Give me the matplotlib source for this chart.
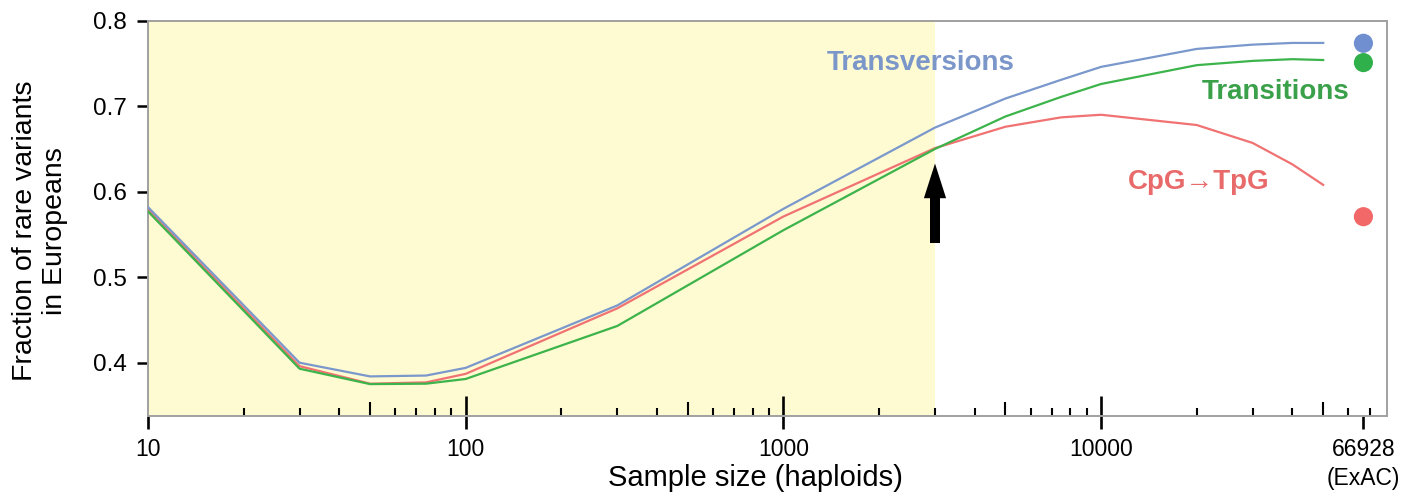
import numpy as np
import matplotlib
matplotlib.use("Agg")
import matplotlib.pyplot as plt

plt.rcParams['font.family'] = ['Liberation Sans', 'DejaVu Sans']

# sample sizes (haploids) and fraction of rare variants
sizes = [10, 30, 50, 75, 100, 300, 1000, 3000, 5000, 7500, 10000, 20000, 30000, 40000, 50000]
transversions = [0.582, 0.400, 0.384, 0.385, 0.394, 0.467, 0.580, 0.675, 0.709, 0.731, 0.746, 0.767, 0.772, 0.774, 0.774]
transitions = [0.577, 0.393, 0.375, 0.3755, 0.381, 0.443, 0.555, 0.650, 0.688, 0.711, 0.726, 0.748, 0.753, 0.755, 0.754]
cpg = [0.579, 0.396, 0.3755, 0.377, 0.387, 0.4636, 0.571, 0.651, 0.676, 0.687, 0.690, 0.678, 0.657, 0.632, 0.608]

exac_n = 66928
exac_vals = [0.7736, 0.751, 0.5708]   # transversions, transitions, CpG

shade_end = 3000
major_ticks = [10, 100, 1000, 10000, exac_n]
major_labels = ['10', '100', '1000', '10000', '66928\n(ExAC)']
yticks = [0.4, 0.5, 0.6, 0.7, 0.8]

c_blue = '#7a98cc'
c_green = '#3cb44b'
c_red = '#f07272'


def px_to_x(px):
    # horizontal pixel in the 1412 px figure -> sample size (log axis)
    return 10 ** (1 + (px - 148) / 317.7)


def px_to_y(py):
    return 0.8 - (py - 20.7) / 855


fig = plt.figure(figsize=(14.12, 4.94), dpi=100)
ax = fig.add_axes([148/1412, 1 - 416/494, 1239/1412, 395.3/494])

ax.axvspan(10, shade_end, color='#fefad2', zorder=0, lw=0)

ax.plot(sizes, cpg, color=c_red, lw=1.6, zorder=3)
ax.plot(sizes, transitions, color=c_green, lw=1.6, zorder=4)
ax.plot(sizes, transversions, color=c_blue, lw=1.6, zorder=5)

ax.scatter([exac_n] * 3, exac_vals, s=190, c=['#6f8fd0', '#30b04a', '#f26767'],
           zorder=6, clip_on=False, linewidths=0)

ax.set_xscale('log')
ax.set_xlim(10, 79400)
ax.set_ylim(0.3377, 0.8)

ax.text(px_to_x(921), px_to_y(63), 'Transversions', color='#7b96c8', fontsize=20,
        fontweight='bold', ha='center', va='center')
ax.text(px_to_x(1276), px_to_y(92), 'Transitions', color='#3aa04a', fontsize=20,
        fontweight='bold', ha='center', va='center')
ax.text(px_to_x(1199), px_to_y(182), 'CpG\u2192TpG', color='#e86a6a', fontsize=20,
        fontweight='bold', ha='center', va='center')

# black arrow at 3000
ax.annotate('', xy=(shade_end, 0.633), xytext=(shade_end, 0.540),
            arrowprops=dict(arrowstyle='simple,head_length=2.5,head_width=1.6,tail_width=0.72',
                            mutation_scale=10, fc='black', ec='none', shrinkA=0, shrinkB=0),
            zorder=7)

# x ticks: outward majors, inward minors
ax.set_xticks(major_ticks)
ax.set_xticklabels(major_labels)
minor = []
for dec in [10, 100, 1000, 10000]:
    minor += [dec * k for k in range(2, 10)]
minor = [m for m in minor if m < 79400]
minor += [100, 1000, 10000]
ax.xaxis.remove_overlapping_locs = False
ax.set_xticks(minor, minor=True)
ax.tick_params(axis='x', which='major', direction='out', length=9.5, width=1.9,
               color='black', labelsize=16.5, pad=6.5)
ax.tick_params(axis='x', which='minor', direction='in', length=5.5, width=1.5,
               color='black', labelbottom=False)
for lab in ax.get_xticklabels():
    lab.set_linespacing(1.3)

ax.set_yticks(yticks)
ax.set_yticklabels([f'{v:.1f}' for v in yticks])
ax.tick_params(axis='y', direction='out', length=8, width=1.8, color='black',
               labelsize=17.5, pad=7)

for s in ax.spines.values():
    s.set_color('#a0a0a0')
    s.set_linewidth(1.4)

ax.set_xlabel('Sample size (haploids)', fontsize=21)
ax.xaxis.set_label_coords((755 - 148) / 1239, (416 - 478) / 395.3)
ax.xaxis.label.set_va('center')
ax.set_ylabel('Fraction of rare variants\nin Europeans', fontsize=20.5, linespacing=1.2)
ax.yaxis.set_label_coords((40 - 148) / 1239, (416 - 231) / 395.3)
ax.yaxis.label.set_va('center')

# longer inward ticks at the decades and at the 5s
fig.canvas.draw()
for t in ax.xaxis.get_minor_ticks():
    v = t.get_loc()
    if v is None:
        continue
    if round(v) in (100, 1000, 10000):
        t.tick1line.set_markersize(14.5)
        t.tick1line.set_markeredgewidth(1.9)
    elif str(int(round(v)))[0] == '5':
        t.tick1line.set_markersize(10)

fig.savefig('out.png', dpi=100)
